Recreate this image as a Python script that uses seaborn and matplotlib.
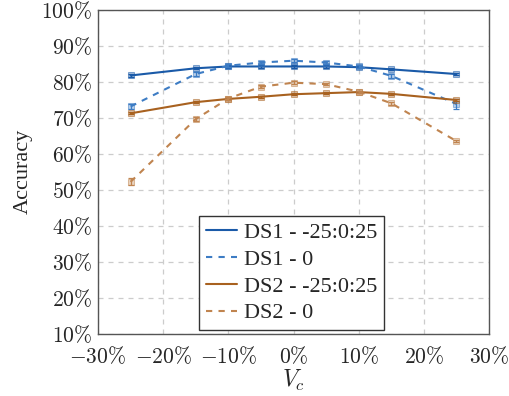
import matplotlib
matplotlib.use("Agg")
import matplotlib.pyplot as plt
import seaborn as sns
import pandas as pd
from matplotlib.lines import Line2D
from matplotlib.ticker import FuncFormatter

x_vals = [-25, -15, -10, -5, 0, 5, 10, 15, 25]
ds1_range = [81.7, 83.7, 84.2, 84.2, 84.2, 84.2, 84.0, 83.4, 82.1]
ds1_range_err = [0.3, 0.3, 0.3, 0.3, 0.3, 0.3, 0.3, 0.3, 0.3]
ds1_zero = [73.1, 82.1, 84.4, 85.3, 85.8, 85.3, 84.2, 81.6, 73.8]
ds1_zero_err = [0.7, 0.5, 0.4, 0.4, 0.4, 0.4, 0.3, 0.5, 1.3]
ds2_range = [71.2, 74.3, 75.2, 75.8, 76.5, 76.8, 77.1, 76.6, 74.9]
ds2_range_err = [0.3, 0.3, 0.3, 0.3, 0.3, 0.3, 0.3, 0.3, 0.3]
ds2_zero = [52.2, 69.6, 75.3, 78.6, 79.7, 79.3, 77.2, 74.0, 63.5]
ds2_zero_err = [1.0, 0.6, 0.4, 0.5, 0.4, 0.3, 0.3, 0.4, 0.3]
labels = ["DS1 - -25:0:25", "DS1 - 0", "DS2 - -25:0:25", "DS2 - 0"]
x_ticks = [-30, -20, -10, 0, 10, 20, 30]
y_ticks = [10, 20, 30, 40, 50, 60, 70, 80, 90, 100]

sns.set_style("white")
plt.rcParams['font.family'] = ['Liberation Serif', 'DejaVu Serif']
plt.rcParams['mathtext.fontset'] = 'cm'

fig = plt.figure(figsize=(5.10, 3.96), dpi=100)
ax = fig.add_axes([98/510, 1-334/396, (489-98)/510, (334-9.5)/396])

series = [
    (ds1_range, ds1_range_err, "#1a5aa8", "-"),
    (ds1_zero, ds1_zero_err, "#3d7cc4", (0, (3, 3))),
    (ds2_range, ds2_range_err, "#a8611f", "-"),
    (ds2_zero, ds2_zero_err, "#c0844f", (0, (3, 3))),
]
handles = []
for (vals, errs, col, ls), lab in zip(series, labels):
    df = pd.DataFrame({"x": x_vals, "y": vals})
    sns.lineplot(data=df, x="x", y="y", ax=ax, color=col, linewidth=1.5,
                 linestyle=ls, marker="s", markersize=4, legend=False)
    ax.errorbar(x_vals, vals, yerr=errs, fmt="none", ecolor=col,
                elinewidth=0.9, capsize=2.5, capthick=0.9)
    handles.append(Line2D([0], [0], color=col, linewidth=1.5, linestyle=ls))

for ln in ax.lines:
    if ln.get_marker() == "s":
        c = ln.get_color()
        ln.set_markerfacecolor(matplotlib.colors.to_rgba(c, 0.35))
        ln.set_markeredgecolor(matplotlib.colors.to_rgba(c, 0.5))

ax.set_xlim(-30, 30)
ax.set_ylim(10, 100)
ax.set_xticks(x_ticks)
ax.set_yticks(y_ticks)
ax.xaxis.set_major_formatter(FuncFormatter(lambda v, p: f"${int(v)}\\%$"))
ax.yaxis.set_major_formatter(FuncFormatter(lambda v, p: f"${int(v)}\\%$"))
ax.tick_params(axis="both", labelsize=15.5, direction="in", length=3, color="#555555")
ax.tick_params(axis="x", pad=9)
ax.tick_params(axis="y", pad=4)
ax.grid(True, color="#cccccc", linestyle=(0, (4, 4)), linewidth=0.9)
ax.set_axisbelow(True)
for s in ax.spines.values():
    s.set_visible(True)
    s.set_color("#555555")
    s.set_linewidth(1.0)

ax.set_xlabel("$V_c$", fontsize=17, labelpad=0)
ax.set_ylabel("Accuracy", fontsize=16, labelpad=6)

leg = ax.legend(handles, labels, loc="lower left", bbox_to_anchor=(0.258, 0.012),
                fontsize=16, frameon=True, fancybox=False, edgecolor="#333333",
                framealpha=1.0, handlelength=1.4, handletextpad=0.35,
                borderpad=0.3, labelspacing=0.28, borderaxespad=0.0)
leg.get_frame().set_linewidth(1.0)

fig.savefig("out.png", dpi=100)
